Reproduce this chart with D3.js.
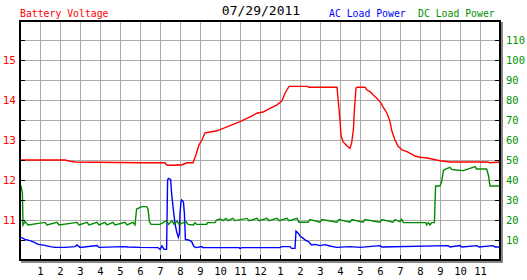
<!DOCTYPE html>
<html><head><meta charset="utf-8">
<script src="https://cdn.jsdelivr.net/npm/d3@7"></script>
<style>body{margin:0;background:#fff} text{font-family:"DejaVu Sans Mono",monospace}</style>
</head><body><svg id="c" width="527" height="280"></svg>
<script>
// ---- data ----
const voltHours = [0,0.05,2.25,2.5,2.75,6,7.25,7.35,7.75,7.9,8.05,8.35,8.65,8.8,8.95,9.1,9.25,9.5,9.85,11,11.5,11.85,12.15,12.5,12.85,13.1,13.25,13.45,14.35,14.45,15.85,16.0,16.05,16.15,16.35,16.5,16.58,16.67,16.72,16.8,16.85,17.25,17.35,17.5,17.65,17.85,18.0,18.15,18.35,18.5,18.6,18.75,18.9,19.1,19.35,19.6,19.75,20,20.35,20.65,21,21.5,23.35,23.5,24];
const voltValues = [12.45,12.5,12.5,12.47,12.45,12.43,12.43,12.37,12.37,12.38,12.37,12.43,12.43,12.63,12.88,13.0,13.18,13.2,13.23,13.46,13.58,13.67,13.7,13.79,13.88,13.98,14.17,14.34,14.34,14.32,14.32,13.5,13.12,12.96,12.85,12.79,12.92,13.25,13.75,14.3,14.32,14.32,14.25,14.21,14.13,14.04,13.96,13.83,13.67,13.46,13.21,13.0,12.85,12.75,12.71,12.64,12.6,12.57,12.55,12.52,12.48,12.45,12.45,12.43,12.45];

const dcHours = [0,0.05,0.12,0.15,0.25,0.4,1.25,1.35,1.85,1.95,2.85,2.95,3.35,3.45,3.85,3.95,4.25,4.35,4.65,4.75,5.25,5.35,5.65,5.75,5.83,6.1,6.33,6.4,6.47,6.55,7,7.33,7.43,7.6,7.7,7.85,7.95,8.3,8.4,8.67,8.75,8.83,9.33,9.37,9.75,9.83,10,10.15,10.3,10.4,10.65,10.75,11.35,11.45,11.85,11.95,12.35,12.45,12.85,12.95,13.35,13.45,13.85,13.95,14.4,14.5,15.0,15.1,15.85,15.95,16.5,16.6,17.15,17.25,18.0,18.1,18.65,18.75,19,19.08,19.17,20.3,20.33,20.42,20.5,20.58,20.72,20.78,21,21.08,21.17,21.25,21.5,21.58,21.83,22.17,22.5,22.75,22.83,23.33,23.42,23.5,24];
const dcValues = [37,37,33.5,17.5,19.2,17.5,18.8,17.5,18.8,17.5,18.8,17.5,18.8,17.5,18.8,17.5,18.8,17.5,18.8,17.5,18.8,17.5,18.8,17.5,25.5,26.7,26.7,25.5,19.2,17.8,17.8,19.7,17.8,19.7,17.8,19.5,17.8,19.2,17.8,17.5,18.7,17.8,17.8,18.7,18.7,20,20.5,19.7,20.8,19.7,20.8,19.7,20.8,19.7,20.8,19.7,20.8,19.7,20.8,19.7,20.8,19.7,20.8,18.9,18.9,20.2,18.9,20.2,18.9,20.2,18.9,20.2,18.9,20.2,18.9,20.2,18.9,20.2,19.2,20.3,18.7,18.7,17.5,18.7,17.5,18.7,18.7,37,37,39.2,44.7,45.3,46.3,45.3,45,44.7,45.8,46.7,45.5,45.5,42.5,37,37];

const acHours = [0,0.05,0.25,0.5,0.75,0.9,1.25,1.5,1.75,2.25,2.75,2.85,3,3.85,3.95,5.15,5.4,6,6.9,7,7.1,7.2,7.33,7.38,7.42,7.53,7.58,7.67,7.75,7.83,7.92,7.97,8,8.05,8.08,8.17,8.22,8.27,8.42,8.5,8.58,8.7,8.83,9.08,9.15,10.95,11,11.1,13,13.08,13.5,13.58,13.75,13.8,13.92,14,14.17,14.25,14.42,14.58,14.75,15,15.25,15.5,15.83,16.5,17,18,18.1,21.4,21.5,22,22.1,22.85,22.95,23.65,23.75,24];
const acValues = [11.5,11.3,10.3,9.7,8.7,7.8,7.3,6.7,6.3,6.3,6.7,7.5,6.3,7.2,6.3,6.7,6.5,6.3,6.2,5.3,7,5.3,5.3,40,40.8,40.3,33.3,25,18.3,14.2,11.3,13.3,23.3,29.2,30,29.2,23.3,10.3,10,9.7,9.2,6.7,6.2,6.7,6.2,6.2,5.8,6.2,6.2,6.7,6.7,5.8,5.8,14.5,13.3,12,10.8,10,9.2,7.5,7.8,7.2,7.7,7,6.3,6.7,6.3,7.2,6.5,7.2,6.5,7.2,6.5,7.2,6.5,7.2,6.5,6.5];

const hourLabels = ["1","2","3","4","5","6","7","8","9","10","11","12","1","2","3","4","5","6","7","8","9","10","11"];
const voltTicks = [10.5,11,11.5,12,12.5,13,13.5,14,14.5,15,15.5];
const powerTicks = [10,20,30,40,50,60,70,80,90,100,110];
const titleDate = "07/29/2011";

// ---- layout ----
const L = 20, R = 500, T = 21, B = 260;
const svg = d3.select("#c");
const x = d3.scaleLinear().domain([0, 24]).range([L, R]);
const yV = d3.scaleLinear().domain([10, 15.975]).range([B, T]);
const yP = d3.scaleLinear().domain([0, 119.5]).range([B, T]);

// shadow
svg.append("rect").attr("x", L + 2).attr("y", T + 2).attr("width", R - L).attr("height", B - T)
  .attr("fill", "none").attr("stroke", "#888").attr("stroke-width", 2);
svg.append("rect").attr("x", L).attr("y", T).attr("width", R - L).attr("height", B - T).attr("fill", "#fff");

// grid
const grid = svg.append("g").attr("stroke", "#aaa").attr("stroke-width", 1);
grid.selectAll("line.h").data(powerTicks).join("line")
  .attr("x1", L).attr("x2", R).attr("y1", d => Math.round(yP(d)) + 0.5).attr("y2", d => Math.round(yP(d)) + 0.5);
grid.selectAll("line.v").data(d3.range(1, 24)).join("line")
  .attr("y1", T).attr("y2", B).attr("x1", d => Math.round(x(d)) + 0.5).attr("x2", d => Math.round(x(d)) + 0.5);

// series
const lineGen = (xs, ys, ysc) => d3.line().x((d, i) => x(xs[i])).y((d, i) => ysc(ys[i]))(ys);
svg.append("path").attr("d", lineGen(acHours, acValues, yP)).attr("fill", "none").attr("stroke", "#0000ff").attr("stroke-width", 1.4);
svg.append("path").attr("d", lineGen(dcHours, dcValues, yP)).attr("fill", "none").attr("stroke", "#008c00").attr("stroke-width", 1.4);
svg.append("path").attr("d", lineGen(voltHours, voltValues, yV)).attr("fill", "none").attr("stroke", "#ff0000").attr("stroke-width", 1.4);

// axes
const ax = svg.append("g").attr("transform", `translate(${L},0)`)
  .call(d3.axisLeft(yV).tickValues(voltTicks).tickSize(-5).tickPadding(4)
    .tickFormat(d => Number.isInteger(d) ? d : ""));
ax.selectAll("text").attr("fill", "#ff0000").style("font-size", "11px");
const ar = svg.append("g").attr("transform", `translate(${R},0)`)
  .call(d3.axisRight(yP).tickValues(powerTicks).tickSize(-5).tickPadding(6));
ar.selectAll("text").attr("fill", "#009000").style("font-size", "10.5px");
const ab = svg.append("g").attr("transform", `translate(0,${B})`)
  .call(d3.axisBottom(x).tickValues(d3.range(1, 24)).tickSize(-5).tickPadding(8)
    .tickFormat((d, i) => hourLabels[i]));
ab.selectAll("text").attr("fill", "#000").style("font-size", "10.5px");
svg.selectAll(".domain").remove();
svg.selectAll(".tick line").attr("stroke", "#000");
svg.selectAll(".tick text").style("font-family", "'DejaVu Sans Mono', monospace");

// frame
svg.append("rect").attr("x", L).attr("y", T).attr("width", R - L).attr("height", B - T)
  .attr("fill", "none").attr("stroke", "#000").attr("stroke-width", 2);

// titles
svg.append("text").attr("x", 20).attr("y", 17).attr("fill", "#ff0000").style("font-size", "9.8px").text("Battery Voltage");
svg.append("text").attr("x", 261).attr("y", 15).attr("text-anchor", "middle").attr("fill", "#000").style("font-size", "13px").text(titleDate);
svg.append("text").attr("x", 329).attr("y", 17).attr("fill", "#0000ff").style("font-size", "9.8px").text("AC Load Power");
svg.append("text").attr("x", 418).attr("y", 17).attr("fill", "#009000").style("font-size", "9.8px").text("DC Load Power");
</script></body></html>
